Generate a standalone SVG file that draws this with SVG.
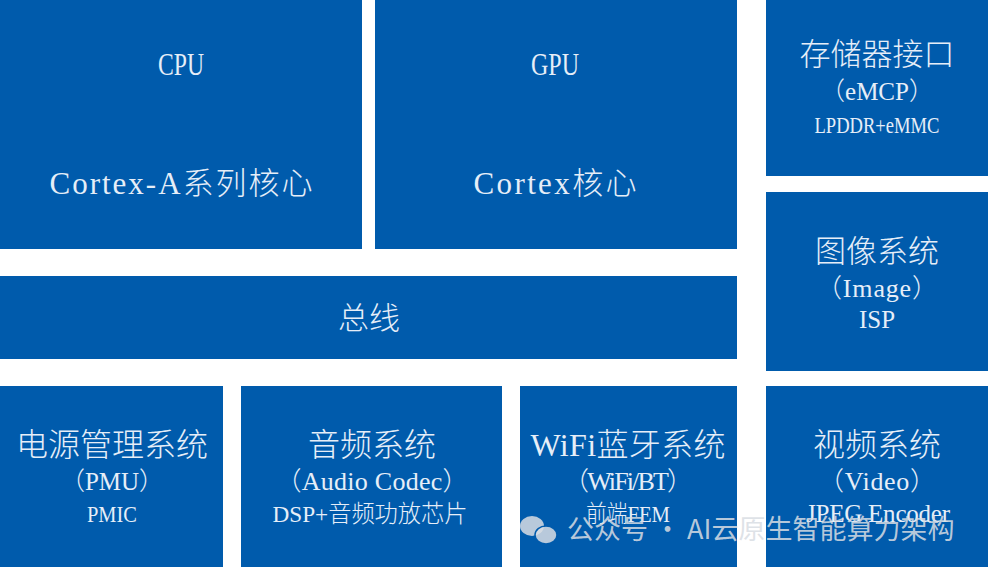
<svg xmlns="http://www.w3.org/2000/svg" width="988" height="570" viewBox="0 0 988 570">
<style>
.box{fill:#005BAC}
.t{fill:#E6EEF8;text-anchor:middle;font-family:"Liberation Serif","Noto Sans CJK SC",serif}
.c{fill:#E6EEF8;text-anchor:middle;font-family:"Noto Sans CJK SC",sans-serif;font-weight:300}
.k{font-family:"Noto Sans CJK SC",sans-serif;font-weight:300}
.wm{fill:#D8DDE3;fill-opacity:0.85;font-family:"Noto Sans CJK SC",sans-serif}
</style>
<rect width="988" height="570" fill="#ffffff"/>
<g id="cpu">
<rect class="box" x="0" y="0" width="362" height="249"/>
<text class="t" x="181" y="75" font-size="32" textLength="46" lengthAdjust="spacingAndGlyphs">CPU</text>
<text class="t" x="181" y="194" font-size="31" textLength="263" lengthAdjust="spacing"><tspan>Cortex-A</tspan><tspan class="k">系列核心</tspan></text>
</g>
<g id="gpu">
<rect class="box" x="375" y="0" width="362" height="249"/>
<text class="t" x="555" y="75" font-size="32" textLength="48" lengthAdjust="spacingAndGlyphs">GPU</text>
<text class="t" x="555" y="194" font-size="31" textLength="163" lengthAdjust="spacing"><tspan>Cortex</tspan><tspan class="k">核心</tspan></text>
</g>
<g id="memory">
<rect class="box" x="766" y="0" width="222" height="176"/>
<text class="c" x="877" y="65" font-size="31">存储器接口</text>
<text class="t" x="877" y="100" font-size="25"><tspan class="k">（</tspan>eMCP<tspan class="k">）</tspan></text>
<text class="t" x="877" y="133" font-size="24" textLength="125" lengthAdjust="spacingAndGlyphs">LPDDR+eMMC</text>
</g>
<g id="image">
<rect class="box" x="766" y="192" width="222" height="179"/>
<text class="c" x="877" y="262" font-size="31">图像系统</text>
<text class="t" x="877" y="297" font-size="26" textLength="122" lengthAdjust="spacing"><tspan class="k">（</tspan>Image<tspan class="k">）</tspan></text>
<text class="t" x="877" y="328" font-size="25" textLength="36" lengthAdjust="spacingAndGlyphs">ISP</text>
</g>
<g id="bus">
<rect class="box" x="0" y="276" width="737" height="83"/>
<text class="c" x="369" y="329" font-size="31">总线</text>
</g>
<g id="pmu">
<rect class="box" x="0" y="386" width="223" height="181"/>
<text class="c" x="112" y="456" font-size="32">电源管理系统</text>
<text class="t" x="112" y="490" font-size="25"><tspan class="k">（</tspan>PMU<tspan class="k">）</tspan></text>
<text class="t" x="112" y="522" font-size="24" textLength="50" lengthAdjust="spacingAndGlyphs">PMIC</text>
</g>
<g id="audio">
<rect class="box" x="241" y="386" width="261" height="181"/>
<text class="c" x="372" y="456" font-size="32">音频系统</text>
<text class="t" x="372" y="490" font-size="26" textLength="193" lengthAdjust="spacing"><tspan class="k">（</tspan>Audio Codec<tspan class="k">）</tspan></text>
<text class="t" x="370" y="522" font-size="24" textLength="195" lengthAdjust="spacingAndGlyphs">DSP+<tspan class="k">音频功放芯片</tspan></text>
</g>
<g id="wifi">
<rect class="box" x="520" y="386" width="217" height="181"/>
<text class="t" x="628" y="456" font-size="32" textLength="195" lengthAdjust="spacing">WiFi<tspan class="k">蓝牙系统</tspan></text>
<text class="t" x="628" y="490" font-size="26" textLength="130" lengthAdjust="spacing"><tspan class="k">（</tspan>WiFi/BT<tspan class="k">）</tspan></text>
<text class="t" x="628" y="522" font-size="24" textLength="84" lengthAdjust="spacingAndGlyphs"><tspan class="k">前端</tspan>FEM</text>
</g>
<g id="video">
<rect class="box" x="766" y="386" width="222" height="181"/>
<text class="c" x="877" y="456" font-size="32">视频系统</text>
<text class="t" x="877" y="490" font-size="26" textLength="118" lengthAdjust="spacing"><tspan class="k">（</tspan>Video<tspan class="k">）</tspan></text>
<text class="t" x="878" y="522" font-size="25" textLength="144" lengthAdjust="spacing">JPEG Encoder</text>
</g>
<g id="connectors"></g>
<g id="watermark">
<ellipse cx="532" cy="526" rx="12" ry="10" fill="#D8DDE3" fill-opacity="0.85"/>
<ellipse cx="546" cy="535" rx="11" ry="9" fill="#D8DDE3" fill-opacity="0.85" stroke="#005BAC" stroke-width="1.5"/>
<text class="wm" x="567" y="539" font-size="27">公众号 · AI云原生智能算力架构</text>
</g>
</svg>
